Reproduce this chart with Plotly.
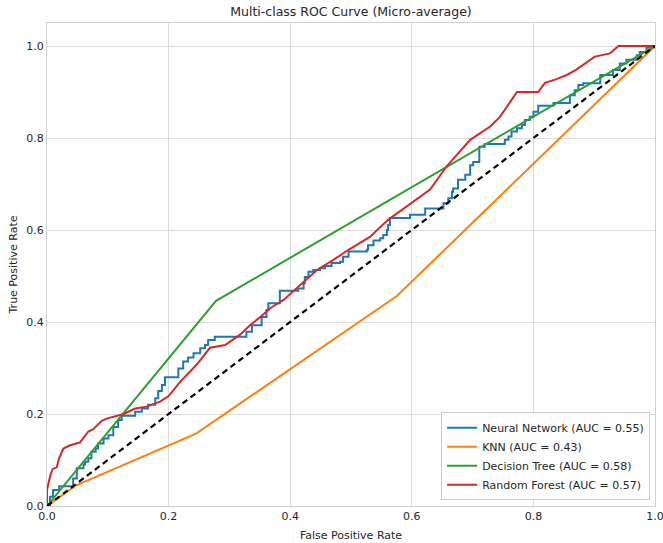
import plotly.graph_objects as go

# ---- data ----
nn_fpr = [0, 0.005, 0.005, 0.010, 0.010, 0.016, 0.020, 0.041, 0.043, 0.049, 0.049, 0.057, 0.060, 0.0625, 0.068,
          0.073, 0.080, 0.084, 0.093, 0.101, 0.109, 0.117, 0.123, 0.142, 0.145, 0.156, 0.166, 0.178, 0.183,
          0.189, 0.194, 0.2105, 0.216, 0.224, 0.232, 0.241, 0.252, 0.260, 0.265, 0.276, 0.323, 0.328, 0.337,
          0.345, 0.353, 0.361, 0.364, 0.380, 0.383, 0.408, 0.413, 0.422, 0.424, 0.430, 0.438, 0.449, 0.457,
          0.468, 0.482, 0.487, 0.496, 0.526, 0.528, 0.537, 0.548, 0.553, 0.559, 0.561, 0.564, 0.594, 0.597,
          0.619, 0.622, 0.649, 0.652, 0.660, 0.666, 0.668, 0.676, 0.688, 0.696, 0.701, 0.706, 0.711, 0.720,
          0.748, 0.753, 0.759, 0.764, 0.773, 0.781, 0.786, 0.794, 0.800, 0.808, 0.830, 0.833, 0.857, 0.860,
          0.868, 0.874, 0.882, 0.907, 0.910, 0.929, 0.931, 0.942, 0.953, 0.970, 0.975, 0.986, 1.0]
nn_tpr = [0, 0.0, 0.02, 0.02, 0.035, 0.035, 0.043, 0.043, 0.060, 0.060, 0.082, 0.082, 0.090, 0.096, 0.104,
          0.118, 0.125, 0.136, 0.147, 0.154, 0.172, 0.187, 0.196, 0.196, 0.205, 0.212, 0.220, 0.234, 0.250,
          0.263, 0.280, 0.280, 0.299, 0.314, 0.323, 0.332, 0.343, 0.350, 0.361, 0.368, 0.368, 0.379, 0.393,
          0.393, 0.411, 0.426, 0.441, 0.441, 0.468, 0.468, 0.473, 0.484, 0.498, 0.509, 0.513, 0.517, 0.522,
          0.528, 0.531, 0.542, 0.553, 0.557, 0.567, 0.577, 0.582, 0.589, 0.600, 0.611, 0.626, 0.626, 0.633,
          0.633, 0.647, 0.647, 0.658, 0.669, 0.683, 0.690, 0.709, 0.720, 0.741, 0.748, 0.748, 0.781, 0.787,
          0.787, 0.796, 0.803, 0.814, 0.821, 0.828, 0.839, 0.846, 0.857, 0.870, 0.870, 0.876, 0.876, 0.893,
          0.904, 0.915, 0.919, 0.919, 0.937, 0.937, 0.948, 0.962, 0.970, 0.980, 0.987, 0.997, 1.0]

knn_fpr = [0, 0.048, 0.246, 0.576, 1.0]
knn_tpr = [0, 0.045, 0.158, 0.457, 1.0]

dt_fpr = [0, 0.278, 1.0]
dt_tpr = [0, 0.446, 1.0]

rf_fpr = [0, 0, 0.005, 0.009, 0.016, 0.020, 0.027, 0.038, 0.054, 0.068, 0.076, 0.090, 0.098, 0.126, 0.145,
          0.164, 0.186, 0.200, 0.219, 0.246, 0.268, 0.279, 0.293, 0.317, 0.334, 0.350, 0.367, 0.389, 0.416,
          0.444, 0.471, 0.496, 0.531, 0.561, 0.630, 0.657, 0.696, 0.712, 0.729, 0.745, 0.759, 0.773, 0.808,
          0.819, 0.838, 0.855, 0.870, 0.885, 0.901, 0.926, 0.940, 1.0]
rf_tpr = [0, 0.035, 0.064, 0.080, 0.084, 0.104, 0.125, 0.132, 0.138, 0.162, 0.167, 0.185, 0.190, 0.200, 0.212,
          0.216, 0.227, 0.239, 0.270, 0.307, 0.344, 0.346, 0.350, 0.372, 0.393, 0.410, 0.430, 0.448, 0.480,
          0.513, 0.535, 0.557, 0.585, 0.622, 0.688, 0.738, 0.796, 0.810, 0.825, 0.846, 0.872, 0.900, 0.900,
          0.920, 0.928, 0.937, 0.948, 0.962, 0.977, 0.984, 1.0, 1.0]

names = ["Neural Network (AUC = 0.55)", "KNN (AUC = 0.43)",
         "Decision Tree (AUC = 0.58)", "Random Forest (AUC = 0.57)"]
colors = ["#1f77b4", "#ff7f0e", "#2ca02c", "#d62728"]
tick_vals = [0.0, 0.2, 0.4, 0.6, 0.8, 1.0]
tick_text = ["0.0", "0.2", "0.4", "0.6", "0.8", "1.0"]

fig = go.Figure()
fig.add_trace(go.Scatter(x=nn_fpr, y=nn_tpr, mode="lines", name=names[0],
                         line=dict(color=colors[0], width=2, shape="hv")))
fig.add_trace(go.Scatter(x=knn_fpr, y=knn_tpr, mode="lines", name=names[1],
                         line=dict(color=colors[1], width=2)))
fig.add_trace(go.Scatter(x=dt_fpr, y=dt_tpr, mode="lines", name=names[2],
                         line=dict(color=colors[2], width=2)))
fig.add_trace(go.Scatter(x=rf_fpr, y=rf_tpr, mode="lines", name=names[3],
                         line=dict(color=colors[3], width=2)))
fig.add_trace(go.Scatter(x=[0, 1], y=[0, 1], mode="lines", showlegend=False,
                         line=dict(color="black", width=2.2, dash="6px,4px")))

font = "DejaVu Sans, sans-serif"
axis_common = dict(showgrid=True, gridcolor="#dcdcdc", gridwidth=1, zeroline=False,
                   showline=True, linecolor="#d0d0d0", linewidth=1, mirror=True,
                   automargin=False, ticklabeloverflow="allow",
                   ticks="", tickfont=dict(family=font, size=11, color="#262626"),
                   tickvals=tick_vals, ticktext=tick_text)

fig.update_layout(
    width=663, height=543,
    margin=dict(l=47, r=8, t=23, b=37),
    paper_bgcolor="white", plot_bgcolor="white",
    font=dict(family=font, color="#262626"),
    title=dict(text="Multi-class ROC Curve (Micro-average)", x=351 / 663, xanchor="center",
               y=1 - 12 / 543, yanchor="middle", yref="container",
               font=dict(family=font, size=12.5, color="#262626")),
    xaxis=dict(range=[0, 1], title=dict(text="False Positive Rate", standoff=9,
                                         font=dict(family=font, size=11, color="#262626")),
               **axis_common),
    yaxis=dict(range=[0, 1.05], title=dict(text="True Positive Rate", standoff=6,
                                            font=dict(family=font, size=11, color="#262626")),
               **axis_common),
    legend=dict(x=0.992, y=0.012, xanchor="right", yanchor="bottom",
                bgcolor="rgba(255,255,255,0.85)", bordercolor="#cccccc", borderwidth=1,
                font=dict(family=font, size=11, color="#262626"), itemwidth=30,
                tracegroupgap=0),
    showlegend=True,
)

fig.write_html("out.html")
